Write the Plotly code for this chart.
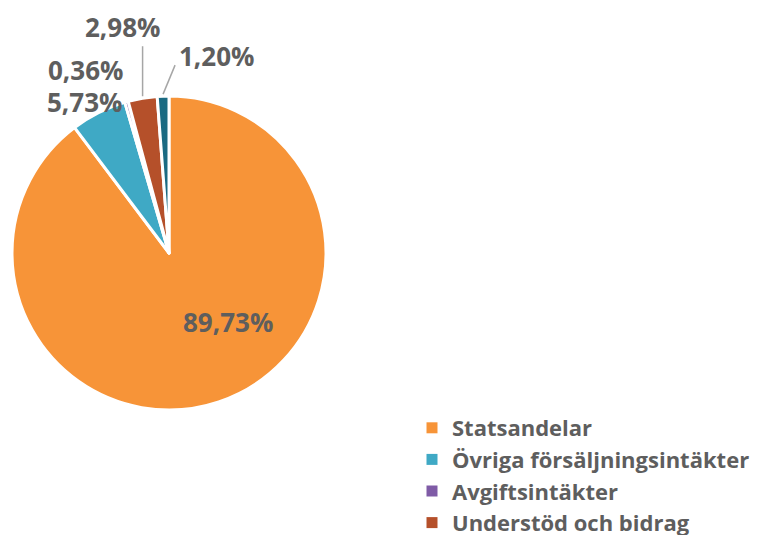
import math
import plotly.graph_objects as go

labels = ["Statsandelar", "Övriga försäljningsintäkter", "Avgiftsintäkter",
          "Understöd och bidrag", "Övriga intäkter"]
values = [89.73, 5.73, 0.36, 2.98, 1.20]
text_labels = ["89,73%", "5,73%", "0,36%", "2,98%", "1,20%"]
colors = ["#F79438", "#3FA9C5", "#7F5BA6", "#B5502A", "#1A6A82"]
legend_count = 4

W, H = 776, 535
FONT = "Open Sans"
TXT = "#5E5E5E"
PAGE_OFF = 8  # page body margin offset
cx, cy, r = 169 - PAGE_OFF, 253 - PAGE_OFF, 157

# label placement styling: offset of label centre from slice edge point (px);
# first label is offset from the pie centre instead
label_offsets = [(59, 69), (-14, -11), (-41, -32), (-20, -71), (53, -40)]
leader_ends = [None, None, None, (0, -52), (12, -31)]

fig = go.Figure()
fig.add_trace(go.Pie(
    labels=labels, values=values, textinfo="none",
    sort=False, direction="clockwise", rotation=0,
    marker=dict(colors=colors, line=dict(color="white", width=3)),
    showlegend=False, hoverinfo="label+percent",
    domain=dict(x=[(cx - r) / W, (cx + r) / W], y=[1 - (cy + r) / H, 1 - (cy - r) / H]),
))
for i in range(legend_count):
    fig.add_trace(go.Scatter(
        x=[None], y=[None], mode="markers", name=labels[i],
        marker=dict(symbol="square", size=11, color=colors[i]),
        showlegend=True,
    ))

total = sum(values)
cum = 0.0
annotations, shapes = [], []
for i, v in enumerate(values):
    mid = (cum + v / 2) / total
    cum += v
    ang = 2 * math.pi * mid
    ex, ey = cx + r * math.sin(ang), cy - r * math.cos(ang)
    ox, oy = label_offsets[i]
    if i == 0:
        lx, ly = cx + ox, cy + oy
    else:
        lx, ly = ex + ox, ey + oy
    annotations.append(dict(
        x=lx / W, y=1 - ly / H, xref="paper", yref="paper",
        text=text_labels[i], showarrow=False, xanchor="center", yanchor="middle",
        font=dict(family=FONT, size=26, color=TXT, weight="bold"),
    ))
    if leader_ends[i] is not None:
        dx, dy = leader_ends[i]
        shapes.append(dict(
            type="line", xref="paper", yref="paper",
            x0=ex / W, y0=1 - (ey - 2) / H, x1=(ex + dx) / W, y1=1 - (ey + dy) / H,
            line=dict(color="#A6A6A6", width=1.5),
        ))

fig.update_layout(
    width=W, height=H, margin=dict(l=0, r=0, t=0, b=0, autoexpand=False),
    paper_bgcolor="white", plot_bgcolor="white",
    xaxis=dict(visible=False), yaxis=dict(visible=False),
    annotations=annotations, shapes=shapes,
    legend=dict(x=404 / W, y=1 - 399 / H, xanchor="left", yanchor="top",
                font=dict(family=FONT, size=22, color=TXT, weight="bold"),
                itemwidth=30, tracegroupgap=0, bgcolor="rgba(0,0,0,0)"),
)
fig.write_html("out.html")
